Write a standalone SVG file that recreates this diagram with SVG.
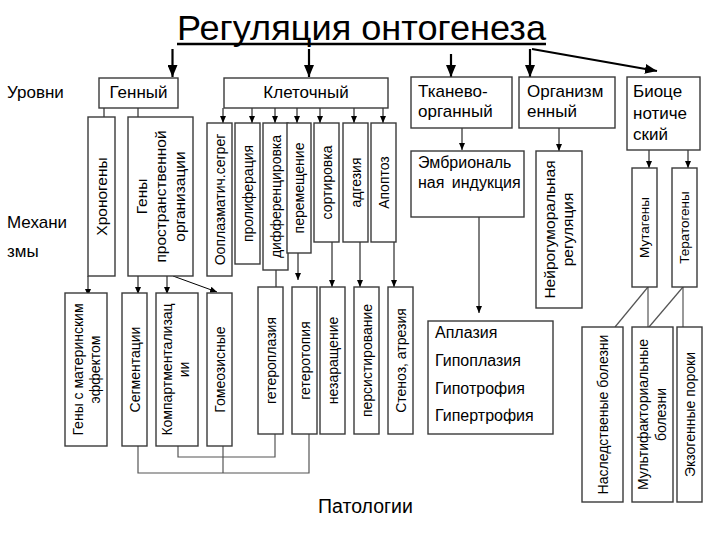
<svg xmlns="http://www.w3.org/2000/svg" width="720" height="540" viewBox="0 0 720 540">
<style>
.box{fill:#fff;stroke:#3a3a3a;stroke-width:1.4}
text{font-family:"Liberation Sans",Arial,sans-serif;fill:#000}
.l{font-size:17px}
.m{font-size:16px}
.v{font-size:14px;text-anchor:middle}
.v15{font-size:15.5px;text-anchor:middle}
.v13{font-size:13.5px;text-anchor:middle}
.c{stroke:#000;stroke-width:1;fill:none}
.g{stroke:#555;stroke-width:1.2;fill:none}
.ta{stroke:#000;stroke-width:2.2;fill:none}
</style>
<defs>
<marker id="a" markerUnits="userSpaceOnUse" markerWidth="7" markerHeight="6" refX="7" refY="3" orient="auto"><path d="M0,0 L7,3 L0,6 z" fill="#000"/></marker>
<marker id="A" markerUnits="userSpaceOnUse" markerWidth="12" markerHeight="10" refX="12" refY="5" orient="auto"><path d="M0,0 L12,5 L0,10 z" fill="#000"/></marker>
</defs>

<g id="title">
<text x="177" y="40" font-size="35" textLength="369" lengthAdjust="spacingAndGlyphs">Регуляция онтогенеза</text>
<line x1="177" y1="44" x2="546" y2="44" stroke="#000" stroke-width="2.5"/>
</g>
<g id="side-labels">
<text class="l" x="7" y="98">Уровни</text>
<text class="l" x="7" y="228">Механи</text>
<text class="l" x="7" y="257">змы</text>
<text x="318" y="513" font-size="19.5">Патологии</text>
</g>

<g id="connectors">
<line class="ta" x1="172.5" y1="49" x2="172.5" y2="77" marker-end="url(#A)"/>
<line class="ta" x1="309" y1="49" x2="309" y2="77" marker-end="url(#A)"/>
<line class="ta" x1="451" y1="54" x2="451" y2="77" marker-end="url(#A)"/>
<line class="ta" x1="530" y1="49" x2="530" y2="77" marker-end="url(#A)"/>
<line class="ta" x1="532" y1="49" x2="657" y2="71" marker-end="url(#A)"/>

<line class="c" x1="104" y1="108" x2="104" y2="126" marker-end="url(#a)"/>
<line class="c" x1="138" y1="108" x2="138" y2="126" marker-end="url(#a)"/>
<line class="c" x1="223" y1="108" x2="223" y2="123" marker-end="url(#a)"/>
<line class="c" x1="252" y1="108" x2="252" y2="123" marker-end="url(#a)"/>
<line class="c" x1="275" y1="108" x2="275" y2="123" marker-end="url(#a)"/>
<line class="c" x1="297" y1="108" x2="297" y2="123" marker-end="url(#a)"/>
<line class="c" x1="320" y1="108" x2="320" y2="123" marker-end="url(#a)"/>
<line class="c" x1="354" y1="108" x2="354" y2="123" marker-end="url(#a)"/>
<line class="c" x1="383" y1="108" x2="383" y2="123" marker-end="url(#a)"/>
<line class="c" x1="462" y1="128" x2="462" y2="150" marker-end="url(#a)"/>
<line class="c" x1="559" y1="128" x2="559" y2="151" marker-end="url(#a)"/>
<line class="c" x1="649" y1="150" x2="649" y2="168" marker-end="url(#a)"/>
<line class="c" x1="688" y1="150" x2="688" y2="168" marker-end="url(#a)"/>
<line class="c" x1="479" y1="217" x2="479" y2="313" marker-end="url(#a)"/>
<line class="c" x1="88" y1="276" x2="88" y2="296" marker-end="url(#a)"/>
<line class="c" x1="138" y1="276" x2="138" y2="294" marker-end="url(#a)"/>
<line class="c" x1="167" y1="276" x2="167" y2="294" marker-end="url(#a)"/>
<line class="c" x1="173" y1="276" x2="217" y2="292" marker-end="url(#a)"/>
<line class="c" x1="276" y1="270" x2="276" y2="296" marker-end="url(#a)"/>
<line class="c" x1="298" y1="253" x2="298" y2="280" marker-end="url(#a)"/>
<line class="c" x1="332" y1="242" x2="332" y2="287" marker-end="url(#a)"/>
<line class="c" x1="360" y1="242" x2="360" y2="287" marker-end="url(#a)"/>
<line class="c" x1="394" y1="242" x2="394" y2="287" marker-end="url(#a)"/>

<polyline class="g" points="178,446 178,457 275,457 275,434"/>
<polyline class="g" points="138,446 138,473 309,473 309,434"/>
<line class="g" x1="223" y1="446" x2="223" y2="473"/>
<line class="g" x1="648" y1="287" x2="615" y2="327"/>
<line class="g" x1="648" y1="287" x2="648" y2="327"/>
<line class="g" x1="683" y1="287" x2="649" y2="327"/>
<line class="g" x1="683" y1="287" x2="683" y2="327"/>
</g>

<g id="n-gennyi"><rect class="box" x="99" y="78" width="79" height="30"/><text class="l" x="138.5" y="98" text-anchor="middle">Генный</text></g>
<g id="n-kletochnyi"><rect class="box" x="224" y="78" width="164" height="30"/><text class="l" x="306" y="98" text-anchor="middle">Клеточный</text></g>
<g id="n-tkanevo"><rect class="box" x="411" y="77" width="101" height="51"/><text class="l" x="418" y="97">Тканево-</text><text class="l" x="418" y="117">органный</text></g>
<g id="n-organizm"><rect class="box" x="519" y="77" width="96" height="51"/><text class="l" x="527" y="97">Организм</text><text class="l" x="527" y="117">енный</text></g>
<g id="n-bioceno"><rect class="box" x="627" y="77" width="73" height="73"/><text class="l" x="633" y="97">Биоце</text><text class="l" x="633" y="118.5">нотиче</text><text class="l" x="633" y="140">ский</text></g>

<g id="n-chronogeny"><rect class="box" x="88" y="117" width="27" height="159"/><text class="v15" transform="translate(106.5,196.5) rotate(-90)">Хроногены</text></g>
<g id="n-geny-prostr"><rect class="box" x="128" y="117" width="65" height="159"/><text class="v15" transform="translate(160.5,196.5) rotate(-90)"><tspan x="0" y="-13.5">Гены</tspan><tspan x="0" y="5.5">пространственной</tspan><tspan x="0" y="24.5">организации</tspan></text></g>
<g id="n-ooplazm"><rect class="box" x="207" y="123" width="25" height="153"/><text class="v" transform="translate(224.5,199.5) rotate(-90)">Ооплазматич.сегрег</text></g>
<g id="n-prolif"><rect class="box" x="235" y="123" width="25" height="141"/><text class="v" transform="translate(252.5,193.5) rotate(-90)">пролиферация</text></g>
<g id="n-differ"><rect class="box" x="263" y="123" width="25" height="147"/><text class="v" transform="translate(280.5,196.5) rotate(-90)">дифференцировка</text></g>
<g id="n-peremesh"><rect class="box" x="287" y="123" width="24" height="130"/><text class="v" transform="translate(304,188) rotate(-90)">перемещение</text></g>
<g id="n-sortirovka"><rect class="box" x="314" y="123" width="25" height="119"/><text class="v" transform="translate(331.5,182.5) rotate(-90)">сортировка</text></g>
<g id="n-adgezia"><rect class="box" x="343" y="123" width="25" height="119"/><text class="v" transform="translate(360.5,182.5) rotate(-90)">адгезия</text></g>
<g id="n-apoptoz"><rect class="box" x="371" y="123" width="25" height="119"/><text class="v" transform="translate(388.5,182.5) rotate(-90)">Апоптоз</text></g>
<g id="n-embrion"><rect class="box" x="411" y="151" width="113" height="66"/><text class="m" x="418" y="168">Эмбриональ</text><text class="m" x="418" y="188" word-spacing="3">ная индукция</text></g>
<g id="n-neiro"><rect class="box" x="536" y="151" width="46" height="157"/><text class="v15" transform="translate(559,229.5) rotate(-90)"><tspan x="0" y="-4">Нейрогуморальная</tspan><tspan x="0" y="14">регуляция</tspan></text></g>
<g id="n-mutageny"><rect class="box" x="632" y="168" width="25" height="119"/><text class="v13" transform="translate(649,227.5) rotate(-90)">Мутагены</text></g>
<g id="n-teratogeny"><rect class="box" x="672" y="168" width="25" height="119"/><text class="v13" transform="translate(689,227.5) rotate(-90)">Тератогены</text></g>

<g id="n-mater"><rect class="box" x="65" y="293" width="42" height="153"/><text class="v" transform="translate(86,369.5) rotate(-90)"><tspan x="0" y="-3">Гены с материнским</tspan><tspan x="0" y="14">эффектом</tspan></text></g>
<g id="n-segment"><rect class="box" x="122" y="293" width="25" height="153"/><text class="v" transform="translate(139.5,369.5) rotate(-90)">Сегментации</text></g>
<g id="n-kompart"><rect class="box" x="156" y="293" width="42" height="153"/><text class="v" transform="translate(177,369.5) rotate(-90)"><tspan x="0" y="-5">Компартментализац</tspan><tspan x="0" y="11.5">ии</tspan></text></g>
<g id="n-gomeo"><rect class="box" x="207" y="293" width="25" height="153"/><text class="v" transform="translate(224.5,369.5) rotate(-90)">Гомеозисные</text></g>
<g id="n-geteroplazia"><rect class="box" x="258" y="287" width="25" height="147"/><text class="v" transform="translate(275.5,360.5) rotate(-90)">гетероплазия</text></g>
<g id="n-geterotopia"><rect class="box" x="292" y="287" width="25" height="147"/><text class="v" transform="translate(309.5,360.5) rotate(-90)">гетеротопия</text></g>
<g id="n-nezarash"><rect class="box" x="320" y="287" width="25" height="147"/><text class="v" transform="translate(337.5,360.5) rotate(-90)">незаращение</text></g>
<g id="n-persist"><rect class="box" x="354" y="287" width="25" height="147"/><text class="v" transform="translate(371.5,360.5) rotate(-90)">персистирование</text></g>
<g id="n-stenoz"><rect class="box" x="388" y="287" width="25" height="147"/><text class="v" transform="translate(405.5,360.5) rotate(-90)">Стеноз, атрезия</text></g>
<g id="n-aplazia"><rect class="box" x="428" y="321" width="125" height="113"/><text class="m" x="435" y="338">Аплазия</text><text class="m" x="435" y="366">Гипоплазия</text><text class="m" x="435" y="394">Гипотрофия</text><text class="m" x="435" y="421">Гипертрофия</text></g>
<g id="n-nasled"><rect class="box" x="582" y="327" width="41" height="175"/><text class="v" transform="translate(607.5,414.5) rotate(-90)">Наследственые болезни</text></g>
<g id="n-multi"><rect class="box" x="632" y="327" width="41" height="175"/><text class="v" transform="translate(652.5,414.5) rotate(-90)"><tspan x="0" y="-4.5">Мультифакториальные</tspan><tspan x="0" y="13.5">болезни</tspan></text></g>
<g id="n-ekzo"><rect class="box" x="677" y="327" width="25" height="175"/><text class="v" transform="translate(694.5,414.5) rotate(-90)">Экзогенные пороки</text></g>
</svg>
